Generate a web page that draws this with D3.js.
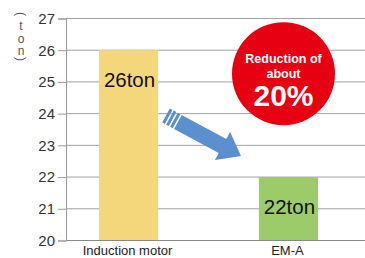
<!DOCTYPE html>
<html><head><meta charset="utf-8">
<script src="https://cdn.jsdelivr.net/npm/d3@7"></script>
<style>body{margin:0;background:#fff}svg{display:block;font-family:"Liberation Sans",Arial,sans-serif}</style>
</head><body><svg id="c" width="365" height="258"></svg>
<script>
const categories = ["Induction motor", "EM-A"];
const values = [26, 22];
const valueLabels = ["26ton", "22ton"];
const barColors = ["#f5d77b", "#9ccb69"];
const yTicks = [20, 21, 22, 23, 24, 25, 26, 27];
const unitChars = ["(", "t", "o", "n", ")"];
const badgeLines = ["Reduction of", "about", "20%"];

const svg = d3.select("#c");
const y = d3.scaleLinear().domain([20, 27]).range([240.5, 18.5]);
const x = d3.scaleBand().domain(categories).range([66, 351]).paddingInner(0.63).paddingOuter(0.206);

// gridlines
svg.append("g").selectAll("line").data(yTicks).join("line")
  .attr("x1", 66).attr("x2", 365).attr("y1", d => y(d)).attr("y2", d => y(d))
  .attr("stroke", "#a0a0a0").attr("stroke-width", 1);

// y axis
const ya = svg.append("g").attr("transform", "translate(66,0)")
  .call(d3.axisLeft(y).tickValues(yTicks).tickFormat(d3.format("d")).tickSize(8).tickPadding(3));
ya.select(".domain").attr("stroke", "#999");
ya.selectAll(".tick line").attr("stroke", "#999");
ya.selectAll(".tick text").attr("font-size", 15).attr("fill", "#333").attr("font-family", "Liberation Sans, Arial, sans-serif");

// bars
svg.append("g").selectAll("rect").data(values).join("rect")
  .attr("x", (d, i) => x(categories[i])).attr("width", x.bandwidth())
  .attr("y", d => y(d)).attr("height", d => y(20) - y(d))
  .attr("fill", (d, i) => barColors[i]);

// bottom axis line
svg.append("line").attr("x1", 66).attr("x2", 365).attr("y1", y(20)).attr("y2", y(20)).attr("stroke", "#888");

// value labels
svg.append("g").selectAll("text").data(values).join("text")
  .attr("x", (d, i) => x(categories[i]) + x.bandwidth() / 2 + 1)
  .attr("y", d => y(d) + 37)
  .attr("text-anchor", "middle").attr("font-size", 20.5).attr("fill", "#111")
  .text((d, i) => valueLabels[i]);

// category labels
svg.append("g").selectAll("text").data(categories).join("text")
  .attr("x", d => x(d) + x.bandwidth() / 2 - 1)
  .attr("y", 255)
  .attr("text-anchor", "middle").attr("font-size", 13).attr("fill", "#222")
  .text(d => d);

// unit label (vertical writing mode, one text element)
const ut = svg.append("text").attr("x", 21).attr("y", 12)
  .attr("font-size", 12).attr("fill", "#555")
  .style("writing-mode", "vertical-rl").style("text-orientation", "mixed")
  .style("letter-spacing", "-1.5px");
unitChars.forEach(c => {
  const ts = ut.append("tspan").text(c);
  if (c === "(" || c === ")") ts.style("letter-spacing", "3px");
  else ts.style("text-orientation", "upright");
});

// arrow
const tail = [166, 115.5], tip = [241, 156];
const ang = Math.atan2(tip[1] - tail[1], tip[0] - tail[0]) * 180 / Math.PI;
const L = Math.hypot(tip[0] - tail[0], tip[1] - tail[1]);
const hw = 8, hh = 16, hl = 21;
const ag = svg.append("g").attr("transform", `translate(${tail[0]},${tail[1]}) rotate(${ang})`).attr("fill", "#5b8fcf");
[[0, 3], [4.5, 7.5], [9, 12]].forEach(s => {
  ag.append("rect").attr("x", s[0]).attr("y", -hw).attr("width", s[1] - s[0]).attr("height", 2 * hw);
});
ag.append("path").attr("d", `M13.5,${-hw}L${L - hl},${-hw}L${L - hl},${-hh}L${L},0L${L - hl},${hh}L${L - hl},${hw}L13.5,${hw}Z`);

// badge
const bg = svg.append("g");
bg.append("circle").attr("cx", 283.5).attr("cy", 73.7).attr("r", 51.5).attr("fill", "#e60012");
bg.append("text").attr("x", 283.5).attr("y", 63).attr("text-anchor", "middle").attr("font-size", 12.5).attr("font-weight", "bold").attr("fill", "#fff").text(badgeLines[0]);
bg.append("text").attr("x", 283.5).attr("y", 77.5).attr("text-anchor", "middle").attr("font-size", 12.5).attr("font-weight", "bold").attr("fill", "#fff").text(badgeLines[1]);
bg.append("text").attr("x", 283.5).attr("y", 106).attr("text-anchor", "middle").attr("font-size", 30).attr("font-weight", "bold").attr("fill", "#fff").text(badgeLines[2]);
</script></body></html>
